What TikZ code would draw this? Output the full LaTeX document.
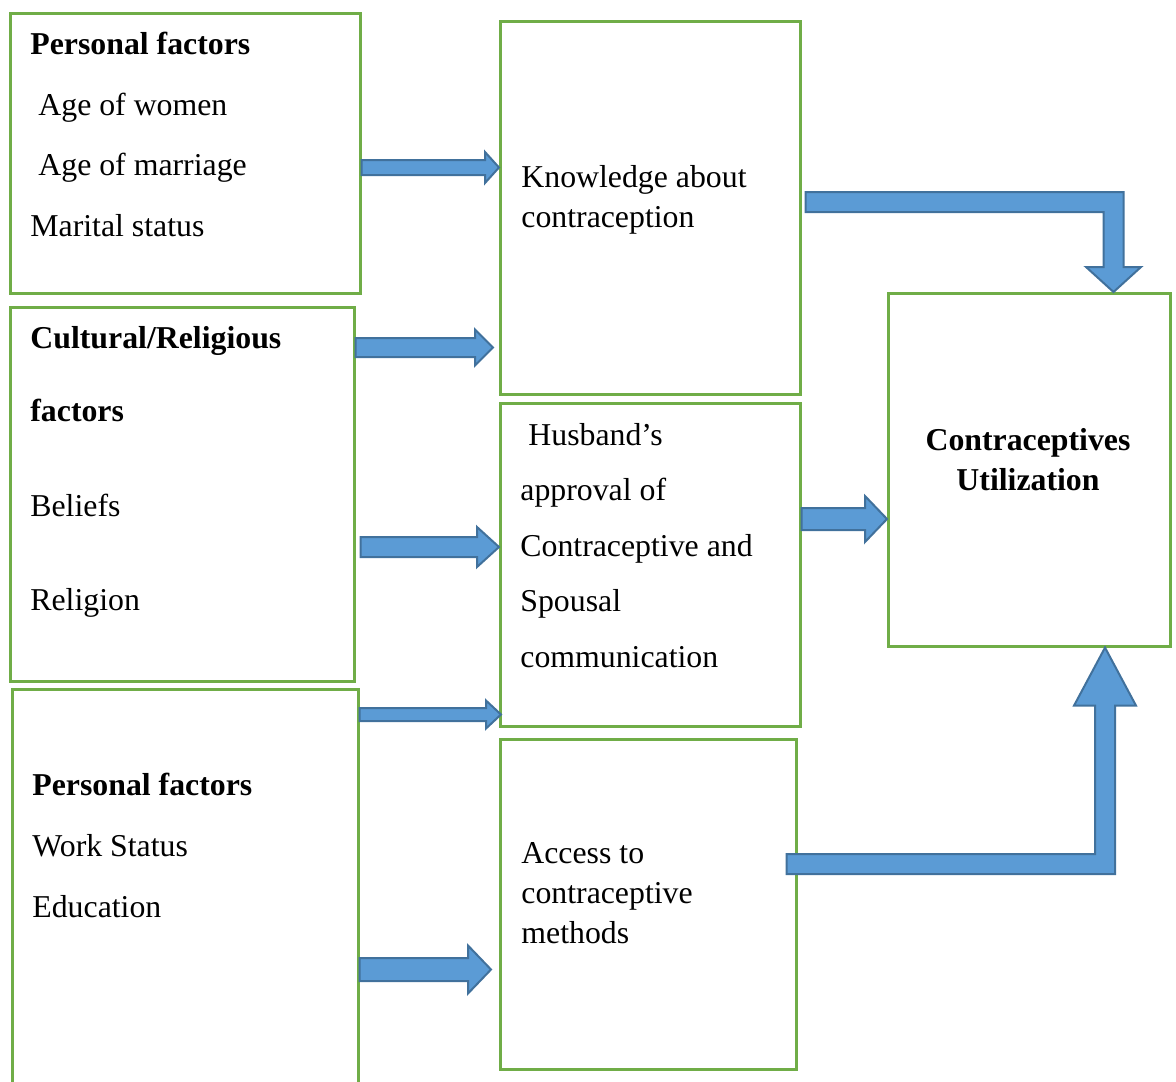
\documentclass[tikz,border=0pt]{standalone}
\usepackage{fontspec}
\setmainfont{Liberation Serif}
\usetikzlibrary{calc}

\definecolor{boxgreen}{HTML}{70AD47}
\definecolor{arrowblue}{HTML}{5B9BD5}
\definecolor{arrowedge}{HTML}{41719C}

\tikzset{
	factorbox/.style={draw=boxgreen, line width=1.3pt, anchor=north west, inner sep=0pt},
	boxtext/.style={anchor=base west, inner sep=0pt, font=\fontsize{15.9}{19}\selectfont},
	blockarrow/.style={fill=arrowblue, draw=arrowedge, line width=1pt, line join=miter}
}

% block arrows: from, to, half shaft, half head, head length
\newcommand{\blockright}[5]{%
	\draw[blockarrow] let \p1=#1, \p2=#2 in
		(\x1,\y1+#3) -- (\x2-#5,\y1+#3) -- (\x2-#5,\y1+#4) -- (\x2,\y1)
		-- (\x2-#5,\y1-#4) -- (\x2-#5,\y1-#3) -- (\x1,\y1-#3) -- cycle;}
\newcommand{\blockdown}[5]{%
	\draw[blockarrow] let \p1=#1, \p2=#2 in
		(\x1,\y1+#3) -- (\x2+#3,\y1+#3) -- (\x2+#3,\y2+#5) -- (\x2+#4,\y2+#5) -- (\x2,\y2)
		-- (\x2-#4,\y2+#5) -- (\x2-#3,\y2+#5) -- (\x2-#3,\y1-#3) -- (\x1,\y1-#3) -- cycle;}
\newcommand{\blockup}[5]{%
	\draw[blockarrow] let \p1=#1, \p2=#2 in
		(\x1,\y1+#3) -- (\x2-#3,\y1+#3) -- (\x2-#3,\y2-#5) -- (\x2-#4,\y2-#5) -- (\x2,\y2)
		-- (\x2+#4,\y2-#5) -- (\x2+#3,\y2-#5) -- (\x2+#3,\y1-#3) -- (\x1,\y1-#3) -- cycle;}

\begin{document}
\begin{tikzpicture}[x=0.5pt, y=-0.5pt]
	\useasboundingbox (0,0) rectangle (1176,1081);
	
	% boxes
	\node[factorbox, minimum width=175pt, minimum height=140pt] (pers) at (9,12) {};
	\node[factorbox, minimum width=172pt, minimum height=187pt] (cult) at (9,306) {};
	\node[factorbox, minimum width=173pt, minimum height=203.5pt] (work) at (11,688) {};
	\node[factorbox, minimum width=150pt, minimum height=186.5pt] (know) at (499,20) {};
	\node[factorbox, minimum width=150pt, minimum height=161.5pt] (husb) at (499,402) {};
	\node[factorbox, minimum width=148pt, minimum height=165pt] (access) at (499,738) {};
	\node[factorbox, minimum width=141pt, minimum height=176.5pt] (util) at (887,292) {};
	
	% texts
	\node[boxtext] (pers1) at (30,55) {\bfseries Personal factors};
	\node[boxtext] (pers2) at (38,115) {Age of women};
	\node[boxtext] (pers3) at (38,175) {Age of marriage};
	\node[boxtext] (pers4) at (30,236) {Marital status};
	
	\node[boxtext] (cult1) at (30,348) {\bfseries Cultural/Religious};
	\node[boxtext] (cult2) at (30,421) {\bfseries factors};
	\node[boxtext] (cult3) at (30,516) {Beliefs};
	\node[boxtext] (cult4) at (30,610) {Religion};
	
	\node[boxtext] (work1) at (32,795) {\bfseries Personal factors};
	\node[boxtext] (work2) at (32,856) {Work Status};
	\node[boxtext] (work3) at (32,917) {Education};
	
	\node[boxtext] (know1) at (521,187) {Knowledge about};
	\node[boxtext] (know2) at (521,227) {contraception};
	
	\node[boxtext] (husb1) at (528,445) {Husband’s};
	\node[boxtext] (husb2) at (520,500) {approval of};
	\node[boxtext] (husb3) at (520,556) {Contraceptive and};
	\node[boxtext] (husb4) at (520,611) {Spousal};
	\node[boxtext] (husb5) at (520,667) {communication};
	
	\node[boxtext] (access1) at (521,863) {Access to};
	\node[boxtext] (access2) at (521,903) {contraceptive};
	\node[boxtext] (access3) at (521,943) {methods};
	
	\node[boxtext, anchor=base] (util1) at (1028,450) {\bfseries Contraceptives};
	\node[boxtext, anchor=base] (util2) at (1028,490) {\bfseries Utilization};
	
	% arrows
	\blockright{(pers.east |- 0,167.5)}{(know.west)}{3.75pt}{7.75pt}{7pt}
	\blockright{(cult.east |- 0,347.5)}{($(know.west)+(-3pt,0pt)$)}{4.75pt}{9pt}{9pt}
	\blockright{($(cult.east |- 0,547)+(2.5pt,0pt)$)}{(husb.west)}{5pt}{10pt}{11pt}
	\blockright{(work.east |- 0,714.5)}{($(husb.west)+(1pt,0pt)$)}{3.25pt}{7pt}{7.5pt}
	\blockright{(work.east |- 0,969.5)}{($(access.west)+(-4pt,0pt)$)}{5.75pt}{12pt}{11.5pt}
	\blockright{(husb.east |- 0,519)}{(util.west)}{5.5pt}{11.5pt}{11pt}
	\blockdown{($(know.east |- 0,202)+(2pt,0pt)$)}{(util.north -| 1113.5,0)}{5pt}{13.75pt}{12.5pt}
	\blockup{($(access.east |- 0,864)+(-5.5pt,0pt)$)}{(util.south -| 1105,0)}{5pt}{15.5pt}{29pt}
\end{tikzpicture}
\end{document}
